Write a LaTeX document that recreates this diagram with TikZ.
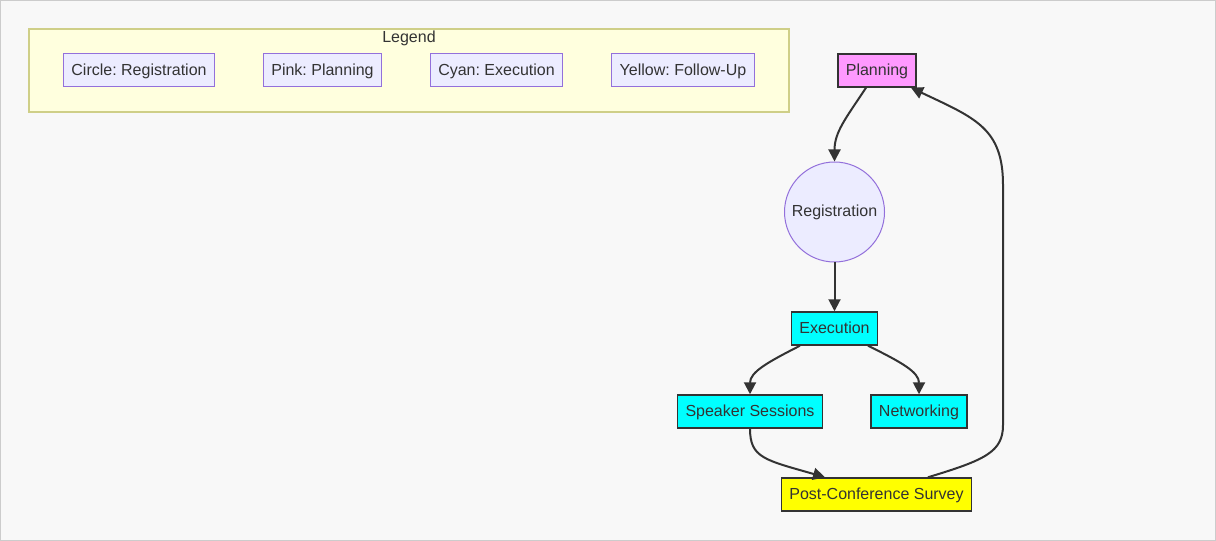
\documentclass[tikz,border=0pt]{standalone}
\usepackage{fontspec}
\setmainfont{Liberation Sans}
\definecolor{mmbg}{HTML}{F8F8F8}
\definecolor{mmframe}{HTML}{CCCCCC}
\definecolor{mmtext}{HTML}{333333}
\definecolor{mmlegfill}{HTML}{FFFFDE}
\definecolor{mmlegline}{HTML}{CFCF88}
\definecolor{mmitem}{HTML}{ECECFF}
\definecolor{mmpurple}{HTML}{9370DB}
\definecolor{mmpink}{HTML}{FF99FF}
\definecolor{mmcyan}{HTML}{00FFFF}
\definecolor{mmyellow}{HTML}{FFFF00}
\usetikzlibrary{arrows.meta,positioning}
\frenchspacing

\begin{document}
\begin{tikzpicture}[
  x=0.75pt,y=-0.75pt,
  font=\fontsize{12pt}{14pt}\selectfont,
  every node/.style={text=mmtext},
  item/.style={draw=mmpurple,line width=0.75pt,fill=mmitem,inner xsep=6pt,inner ysep=0pt,minimum height=24.75pt,text depth=0.5pt},
  proc/.style={draw=mmtext,line width=1.1pt,inner xsep=6pt,inner ysep=0pt,minimum height=24.75pt,text depth=0.5pt},
  fl/.style={-{Triangle[length=9pt,width=9pt]},mmtext,line width=1.5pt}]
\useasboundingbox (0,0) rectangle (1216,541);
\draw[fill=mmbg,draw=mmframe,line width=0.75pt] (0.5,0.5) rectangle (1215.5,540.5);
% legend
\draw[fill=mmlegfill,draw=mmlegline,line width=0.9pt] (29,29) rectangle (789,112);
\node (legt) at (409,38.5) {Legend};
\node[item] (lcirc) at (139,70.5) {Circle: Registration};
\node[item] (lpink) at (322.5,70.5) {Pink: Planning};
\node[item] (lcyan) at (496.5,70.5) {Cyan: Execution};
\node[item] (lyell) at (683,70.5) {Yellow: Follow-Up};
% flow
\node[proc,fill=mmpink] (plan) at (877,70.5) {Planning};
\node[circle,draw=mmpurple,line width=0.75pt,fill=mmitem,minimum size=75pt,inner sep=0pt] (reg) at (834.5,212) {Registration};
\node[proc,fill=mmcyan] (exe) at (834.5,328.5) {Execution};
\node[proc,fill=mmcyan] (spk) at (750,411.5) {Speaker Sessions};
\node[proc,fill=mmcyan] (net) at (919,411.5) {Networking};
\node[proc,fill=mmyellow] (psv) at (876.5,494.5) {Post-Conference Survey};
\draw[fl] ([xshift=-8.25pt]plan.south) .. controls (846,118) and (834.5,132) .. (reg.north);
\draw[fl] (reg.south) -- (exe.north);
\draw[fl] ([xshift=-25.9pt]exe.south) .. controls (768,362) and (750,372) .. (spk.north);
\draw[fl] ([xshift=25.1pt]exe.south) .. controls (901,362) and (919,372) .. (net.north);
\draw[fl] (spk.south) .. controls (750,458) and (765,460) .. ([xshift=-38.6pt]psv.north);
\draw[fl] ([xshift=38.6pt]psv.north) .. controls (985,460) and (1003,452) .. (1003,425)
  -- (1003,185) .. controls (1003,128) and (975,118) .. ([xshift=25.5pt]plan.south);
\end{tikzpicture}
\end{document}
